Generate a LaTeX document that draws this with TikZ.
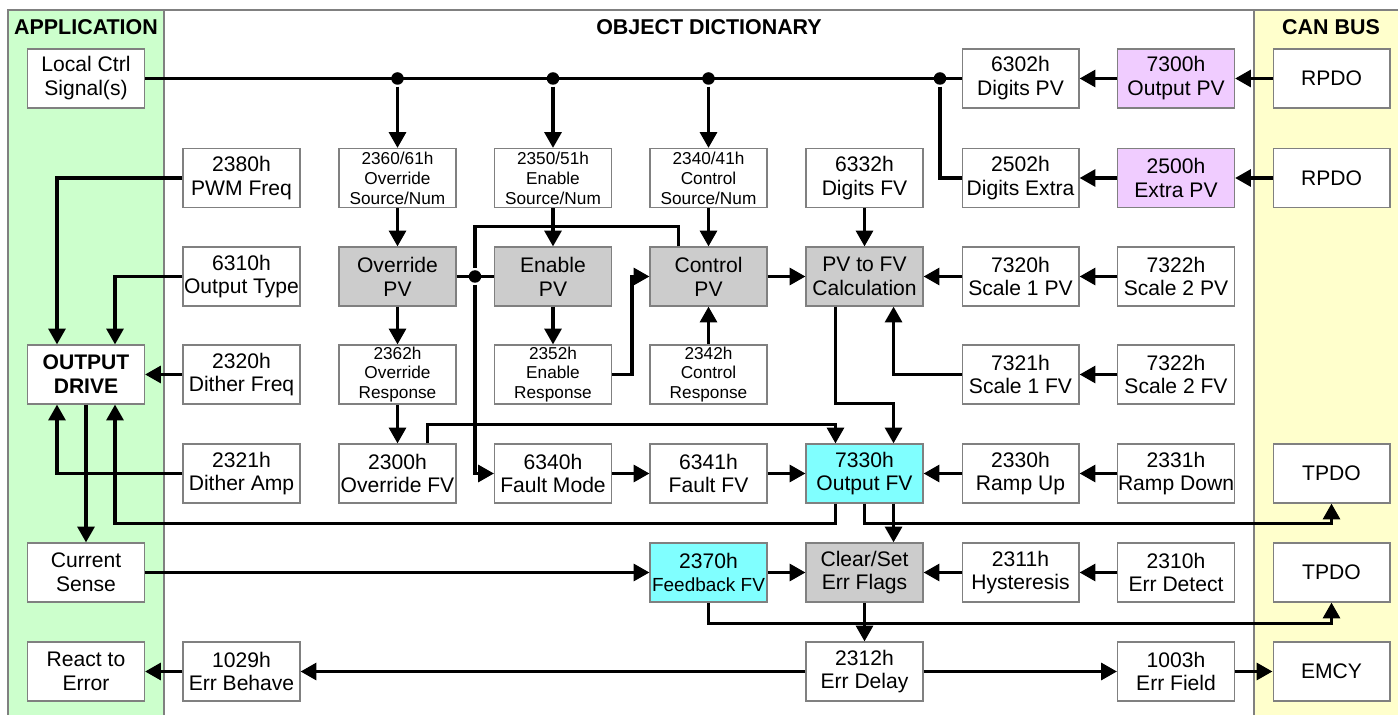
\documentclass[tikz,border=0pt]{standalone}
\usepackage{fontspec}
\setmainfont{Liberation Sans}
\usetikzlibrary{arrows.meta}

\definecolor{appgreen}{RGB}{204,255,204}
\definecolor{canyellow}{RGB}{255,255,204}
\definecolor{pvgray}{RGB}{204,204,204}
\definecolor{pvpurple}{RGB}{240,204,255}
\definecolor{fvcyan}{RGB}{128,255,255}
\definecolor{boxline}{RGB}{128,128,128}

\begin{document}
\begin{tikzpicture}[
            x = 0.02cm, y = -0.02cm, % pixel grid, y pointing down
            > = {Triangle[length=9pt,width=9.5pt]}, % arrow head style
            line width = 2.1pt, % connector style
            box/.style = {draw=boxline, line width=0.6pt, fill=white, inner sep=0pt,
                          minimum width=2.34cm, minimum height=1.18cm, align=center,
                          font=\fontsize{12}{13.6}\selectfont},
            smallbox/.style = {box, font=\fontsize{9.8}{11.3}\selectfont},
            pvbox/.style = {box, fill=pvgray},
            canbox/.style = {box, fill=pvpurple},
            fvbox/.style = {box, fill=fvcyan},
            junction/.style = {circle, fill=black, inner sep=0pt, minimum size=0.25cm},
            heading/.style = {anchor=base, font=\bfseries\fontsize{12.2}{13}\selectfont}
        ]

\useasboundingbox (0,0) rectangle (1398,715);
\fill[appgreen] (8,10) rectangle (164,715);
\fill[canyellow] (1254,10) rectangle (1398,715);
\draw[boxline, line width=0.6pt] (8,715) -- (8,10) -- (1398,10);
\draw[boxline, line width=0.6pt] (164,10) -- (164,715);
\draw[boxline, line width=0.6pt] (1254,10) -- (1254,715);

\node[heading] (HA) at (86,35) {APPLICATION};
\node[heading] (HO) at (709,35) {OBJECT DICTIONARY};
\node[heading] (HC) at (1331,35) {CAN BUS};

% row 1
\node[box] (LCS) at (86,78.5) {Local Ctrl\\Signal(s)};
\node[box] (DPV) at (1020.5,78.5) {6302h\\Digits PV};
\node[canbox] (OPV) at (1176,78.5) {7300h\\Output PV};
\node[box] (RP1) at (1331.5,78.5) {RPDO};
% row 2
\node[box] (PWM) at (241.5,178) {2380h\\PWM Freq};
\node[smallbox] (OVS) at (397.5,178) {2360/61h\\Override\\Source/Num};
\node[smallbox] (ENS) at (553,178) {2350/51h\\Enable\\Source/Num};
\node[smallbox] (CTS) at (708.5,178) {2340/41h\\Control\\Source/Num};
\node[box] (DFV) at (864.5,178) {6332h\\Digits FV};
\node[box] (DEX) at (1020.5,178) {2502h\\Digits Extra};
\node[canbox] (XPV) at (1176,178) {2500h\\Extra PV};
\node[box] (RP2) at (1331.5,178) {RPDO};
% row 3
\node[box] (OTY) at (241.5,276.5) {6310h\\Output Type};
\node[pvbox] (OVP) at (397.5,276.5) {Override\\PV};
\node[pvbox] (ENP) at (553,276.5) {Enable\\PV};
\node[pvbox] (CTP) at (708.5,276.5) {Control\\PV};
\node[pvbox] (PVF) at (864.5,276.5) {PV to FV\\Calculation};
\node[box] (SP1) at (1020.5,276.5) {7320h\\Scale 1 PV};
\node[box] (SP2) at (1176,276.5) {7322h\\Scale 2 PV};
% row 4
\node[box, font=\bfseries\fontsize{12}{13.6}\selectfont] (ODR) at (86,374.5) {OUTPUT\\DRIVE};
\node[box] (DFQ) at (241.5,374.5) {2320h\\Dither Freq};
\node[smallbox] (OVR) at (397.5,374.5) {2362h\\Override\\Response};
\node[smallbox] (ENR) at (553,374.5) {2352h\\Enable\\Response};
\node[smallbox] (CTR) at (708.5,374.5) {2342h\\Control\\Response};
\node[box] (SF1) at (1020.5,374.5) {7321h\\Scale 1 FV};
\node[box] (SF2) at (1176,374.5) {7322h\\Scale 2 FV};
% row 5
\node[box] (DAM) at (241.5,473.5) {2321h\\Dither Amp};
\node[box] (OVF) at (397.5,473.5) {2300h\\Override FV};
\node[box] (FMD) at (553,473.5) {6340h\\Fault Mode};
\node[box] (FFV) at (708.5,473.5) {6341h\\Fault FV};
\node[fvbox] (OFV) at (864.5,473.5) {7330h\\Output FV};
\node[box] (RUP) at (1020.5,473.5) {2330h\\Ramp Up};
\node[box] (RDN) at (1176,473.5) {2331h\\Ramp Down};
\node[box] (TP1) at (1331.5,473.5) {TPDO};
% row 6
\node[box] (CUR) at (86,572.5) {Current\\Sense};
\node[fvbox] (FBK) at (708.5,572.5) {2370h\\\fontsize{10.8}{13.6}\selectfont Feedback FV};
\node[pvbox] (CSF) at (864.5,572.5) {Clear/Set\\Err Flags};
\node[box] (HYS) at (1020.5,572.5) {2311h\\Hysteresis};
\node[box] (EDT) at (1176,572.5) {2310h\\Err Detect};
\node[box] (TP2) at (1331.5,572.5) {TPDO};
% row 7
\node[box] (RTE) at (86,671.5) {React to\\Error};
\node[box] (EBH) at (241.5,671.5) {1029h\\Err Behave};
\node[box] (EDL) at (864.5,671.5) {2312h\\Err Delay};
\node[box] (EFD) at (1176,671.5) {1003h\\Err Field};
\node[box] (EMC) at (1331.5,671.5) {EMCY};

% local signal bus
\node[junction] (J1) at (397.5,78.5) {};
\node[junction] (J2) at (553,78.5) {};
\node[junction] (J3) at (708.5,78.5) {};
\node[junction] (J4) at (940,78.5) {};
\node[junction] (J5) at (475,276.5) {};

\draw (LCS) -- (DPV);
\draw (J4) |- (DEX);
\path [->] (J1) edge (OVS);
\path [->] (J2) edge (ENS);
\path [->] (J3) edge (CTS);
\path [->] (OPV) edge (DPV);
\path [->] (RP1) edge (OPV);
\path [->] (XPV) edge (DEX);
\path [->] (RP2) edge (XPV);

\path [->] (OVS) edge (OVP);
\path [->] (ENS) edge (ENP);
\path [->] (CTS) edge (CTP);
\path [->] (DFV) edge (PVF);
\path [->] (OVP) edge (OVR);
\path [->] (OVR) edge (OVF);
\path [->] (ENP) edge (ENR);
\path [->] (CTR) edge (CTP);
\path [->] (CTP) edge (PVF);
\path [->] (SP1) edge (PVF);
\path [->] (SP2) edge (SP1);
\path [->] (SF2) edge (SF1);
\draw (OVP) -- (ENP);
\draw[->] (ENR.east) -- ++(0.4cm,0) |- (CTP.west);
\draw[->] ([xshift=0.58cm]CTP.north west) -- ++(0,0.4cm) -| (J5) |- (FMD.west);
\draw[->] (SF1.west) -| ([xshift=-0.6cm]PVF.south east);
\draw[->] ([xshift=0.6cm]PVF.south west) -- ++(0,-1.94cm) -| ([xshift=-0.6cm]OFV.north east);
\draw[->] ([xshift=-0.58cm]OVF.north east) -- ++(0,0.38cm) -| ([xshift=0.6cm]OFV.north west);

\path [->] (FMD) edge (FFV);
\path [->] (FFV) edge (OFV);
\path [->] (RUP) edge (OFV);
\path [->] (RDN) edge (RUP);
\draw[->] ([xshift=0.6cm]OFV.south west) -- ++(0,-0.4cm) -| ([xshift=-0.6cm]ODR.south east);
\draw[->] (OFV.south) -- ++(0,-0.4cm) -| (TP1.south);
\draw[->] ([xshift=-0.6cm]OFV.south east) -- ([xshift=-0.6cm]CSF.north east);

% output drive
\draw[->] (PWM.west) -| ([xshift=0.6cm]ODR.north west);
\draw[->] (OTY.west) -| ([xshift=-0.6cm]ODR.north east);
\path [->] (DFQ) edge (ODR);
\draw[->] (DAM.west) -| ([xshift=0.6cm]ODR.south west);
\path [->] (ODR) edge (CUR);

% feedback and errors
\path [->] (CUR) edge (FBK);
\path [->] (FBK) edge (CSF);
\path [->] (HYS) edge (CSF);
\path [->] (EDT) edge (HYS);
\draw[->] (FBK.south) -- ++(0,-0.42cm) -| (TP2.south);
\path [->] (CSF) edge (EDL);
\path [->] (EDL) edge (EBH);
\path [->] (EDL) edge (EFD);
\path [->] (EFD) edge (EMC);
\path [->] (EBH) edge (RTE);
\end{tikzpicture}
\end{document}
